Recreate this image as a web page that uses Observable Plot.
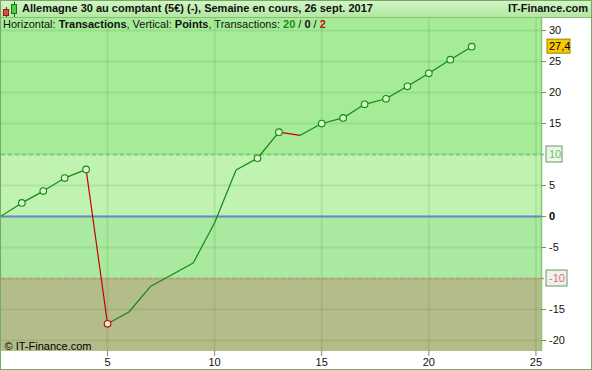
<!DOCTYPE html>
<html>
<head>
<meta charset="utf-8">
<script src="https://cdn.jsdelivr.net/npm/d3@7"></script>
<script src="https://cdn.jsdelivr.net/npm/@observablehq/plot@0.6"></script>
<style>
  body { margin: 0; background: #fff; }
  #wrap { position: relative; width: 592px; height: 370px; box-sizing: border-box; border: 1px solid #78a868; background: #fff; overflow: hidden; font-family: "Liberation Sans", Arial, sans-serif; font-size: 11px; color: #111; }
  #hdr { position: relative; height: 16px; border-bottom: 1px solid #8cbc7c; background: linear-gradient(#d2f5c4, #b2e8a2); }
  #hdr .t { position: absolute; top: 1px; line-height: 12px; font-weight: bold; font-size: 11px; white-space: nowrap; }
  #sub { position: absolute; left: 2px; top: 17px; line-height: 12px; font-size: 11px; white-space: nowrap; }
  #chart { height: 351px; }
  #chart svg { display: block; }
</style>
</head>
<body>
<div id="wrap">
  <div id="hdr">
    <svg width="20" height="16" style="position:absolute;left:0;top:0">
      <line x1="5.5" y1="6" x2="5.5" y2="16" stroke="#7a2020" stroke-width="1"/>
      <rect x="2.5" y="8.5" width="5" height="6" fill="#e84848" stroke="#8a2020"/>
      <line x1="13.5" y1="0.5" x2="13.5" y2="16" stroke="#206020" stroke-width="1"/>
      <rect x="10.5" y="3.5" width="5" height="9" fill="#48d048" stroke="#207020"/>
    </svg>
    <span class="t" id="title" style="left:21px"></span>
    <span class="t" id="brand" style="right:3px"></span>
  </div>
  <div id="chart"></div>
  <div id="sub"></div>
</div>
<script>
// ---- data ----
const titleText = "Allemagne 30 au comptant (5€) (-), Semaine en cours, 26 sept. 2017";
const brandText = "IT-Finance.com";
const copyrightText = "© IT-Finance.com";
const trades = [0, 1, 2, 3, 4, 5, 6, 7, 8, 9, 10, 11, 12, 13, 14, 15, 16, 17, 18, 19, 20, 21, 22];
const points = [0, 2.2, 4.1, 6.2, 7.6, -17.3, -15.4, -11.3, -9.4, -7.5, -1.0, 7.5, 9.4, 13.6, 13.1, 15.0, 15.9, 18.1, 19.0, 21.0, 23.1, 25.3, 27.4];
const markedTrades = [1, 2, 3, 4, 5, 12, 13, 15, 16, 17, 18, 19, 20, 21, 22];
const xTicks = [5, 10, 15, 20, 25];
const yTicks = [-20, -15, -10, -5, 0, 5, 10, 15, 20, 25, 30];
const upperLevel = 10;
const lowerLevel = -10;
const wins = 20, neutral = 0, losses = 2;

// ---- header texts ----
document.getElementById("title").textContent = titleText;
document.getElementById("brand").textContent = brandText;
document.getElementById("sub").innerHTML =
  'Horizontal: <b>Transactions</b>, Vertical: <b>Points</b>, Transactions: ' +
  '<b style="color:#1a8a1a">' + wins + '</b> / <b>' + neutral + '</b> / <b style="color:#c01010">' + losses + '</b>';

// ---- geometry ----
const W = 590, H = 351;
const mL = 0, mR = 50, mT = 0, mB = 18;
const xMin = 0.05, xMax = 25.26;
const yMin = -21.77, yMax = 31.94;
const pxX = (W - mL - mR) / (xMax - xMin);
const pxY = (H - mT - mB) / (yMax - yMin);

const data = trades.map((t, i) => ({t, v: points[i]}));
const segs = d3.pairs(data).map(([a, b]) => ({a, b, color: b.v < a.v ? "#c80000" : "#108a10"}));
const marked = data.filter(d => markedTrades.includes(d.t)).map(d => {
  const prev = data[d.t - 1];
  return {...d, loss: prev && d.v < prev.v};
});
const last = data[data.length - 1];

const bands = [
  {lo: upperLevel, hi: yMax, fill: "#a6ec98"},
  {lo: 0, hi: upperLevel, fill: "#c0f2b0"},
  {lo: lowerLevel, hi: 0, fill: "#a9eaa0"},
  {lo: yMin, hi: lowerLevel, fill: "#b4bc8a"}
];
const plainTicks = yTicks.filter(v => v !== 0 && v !== upperLevel && v !== lowerLevel);
const fmt = v => String(v).replace(".", ",");

const chart = Plot.plot({
  width: W, height: H,
  marginLeft: mL, marginRight: mR, marginTop: mT, marginBottom: mB,
  x: {domain: [xMin, xMax], axis: null},
  y: {domain: [yMin, yMax], axis: null},
  color: {type: "identity"},
  style: {fontFamily: "'Liberation Sans', Arial, sans-serif", fontSize: "11px", background: "#fff", overflow: "visible", color: "#111"},
  marks: [
    Plot.rect(bands, {x1: () => xMin, x2: () => xMax, y1: "lo", y2: "hi", fill: d => d.fill}),
    Plot.ruleY(yTicks, {x1: () => xMin, x2: () => xMax, stroke: "#2e6a1e", strokeOpacity: 0.11, strokeWidth: 2}),
    Plot.ruleX(xTicks, {y1: () => yMin, y2: () => yMax, stroke: "#2e6a1e", strokeOpacity: 0.11, strokeWidth: 2}),
    Plot.ruleX([xMax], {y1: () => yMin, y2: () => yMax, stroke: "#86c676", strokeWidth: 1.5}),
    Plot.ruleY([upperLevel], {x1: () => xMin, x2: () => xMax + 5 / pxX, stroke: "#6ccc6c", strokeWidth: 1.5, strokeDasharray: "4,3"}),
    Plot.ruleY([lowerLevel], {x1: () => xMin, x2: () => xMax + 5 / pxX, stroke: "#d09080", strokeWidth: 1.5, strokeDasharray: "4,3"}),
    Plot.ruleY([0], {x1: () => xMin, x2: () => xMax, stroke: "#6a86d0", strokeWidth: 2}),
    // right axis ticks
    Plot.ruleY(yTicks.filter(v => v !== upperLevel && v !== lowerLevel), {x1: () => xMax, x2: () => xMax + 5 / pxX, stroke: "#6a9a5a"}),
    // bottom axis ticks
    Plot.ruleX(xTicks, {y1: () => yMin, y2: () => yMin - 5 / pxY, stroke: "#6a9a5a"}),
    // equity line
    Plot.link(segs, {x1: d => d.a.t, y1: d => d.a.v, x2: d => d.b.t, y2: d => d.b.v, stroke: d => d.color, strokeWidth: 1.2}),
    Plot.dot(marked, {x: "t", y: "v", r: 3.3, fill: "#d8f8cc", stroke: d => d.loss ? "#c80000" : "#108a10", strokeWidth: 1.1}),
    // right labels
    Plot.text(plainTicks, {x: () => xMax, y: d => d, text: d => fmt(d), dx: 7.5, textAnchor: "start", lineAnchor: "middle", fill: "#111"}),
    Plot.text([0], {x: () => xMax, y: d => d, text: d => fmt(d), dx: 7.5, textAnchor: "start", lineAnchor: "middle", fill: "#000", fontWeight: "bold"}),
    Plot.rect([upperLevel], {x1: () => xMax, x2: () => xMax, y1: d => d, y2: d => d, dx: 13, insetLeft: -8, insetRight: -8, insetTop: -8, insetBottom: -8, fill: "#eef5ec", stroke: "#6a9a5a"}),
    Plot.text([upperLevel], {x: () => xMax, y: d => d, text: d => fmt(d), dx: 7.5, textAnchor: "start", lineAnchor: "middle", fill: "#62c862"}),
    Plot.rect([lowerLevel], {x1: () => xMax, x2: () => xMax, y1: d => d, y2: d => d, dx: 15.5, insetLeft: -10.5, insetRight: -10.5, insetTop: -8, insetBottom: -8, fill: "#eef2ee", stroke: "#6a9a5a"}),
    Plot.text([lowerLevel], {x: () => xMax, y: d => d, text: d => fmt(d), dx: 7.5, textAnchor: "start", lineAnchor: "middle", fill: "#e07070"}),
    Plot.rect([last], {x1: () => xMax, x2: () => xMax, y1: "v", y2: "v", dx: 17.5, insetLeft: -11.5, insetRight: -11.5, insetTop: -7, insetBottom: -7, fill: "#f8c800", stroke: "#9a8200"}),
    Plot.text([last], {x: () => xMax, y: "v", text: d => fmt(d.v), dx: 7.5, textAnchor: "start", lineAnchor: "middle", fill: "#000"}),
    // bottom labels
    Plot.text(xTicks, {x: d => d, y: () => yMin, text: d => String(d), lineAnchor: "top", dy: 7, fill: "#111"}),
    // copyright
    Plot.text([copyrightText], {frameAnchor: "bottom-left", text: d => d, dx: 3, dy: -2, textAnchor: "start", lineAnchor: "bottom", fill: "#000"})
  ]
});
document.getElementById("chart").appendChild(chart);
</script>
</body>
</html>
